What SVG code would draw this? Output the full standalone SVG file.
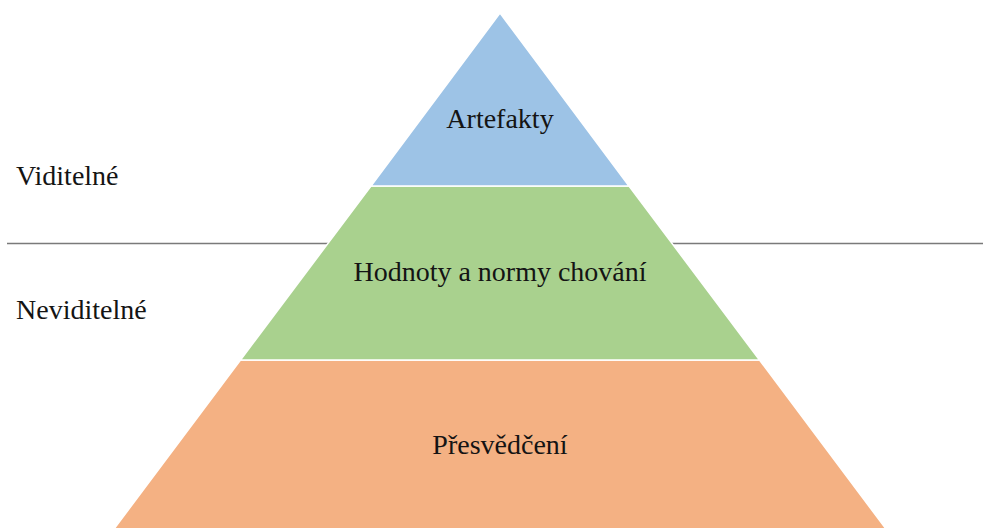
<svg xmlns="http://www.w3.org/2000/svg" width="983" height="528" viewBox="0 0 983 528">
<style>
  .lbl { font-family: "Liberation Serif", "Times New Roman", serif; font-size: 28px; fill: #141414; }
  .mid { text-anchor: middle; }
  .layer { stroke: #ffffff; stroke-width: 1.5; stroke-linejoin: miter; }
  .divider { stroke: #7a7a7a; stroke-width: 1.3; fill: none; }
</style>
<rect width="983" height="528" fill="#ffffff"/>
<g id="connectors">
  <line class="divider" x1="7" y1="243.5" x2="983" y2="243.5"/>
</g>
<g id="layer-beliefs">
  <polygon class="layer" fill="#F4B183" points="240.5,360 759.5,360 886,529 114,529"/>
  <text class="lbl mid" x="500" y="454">Přesvědčení</text>
</g>
<g id="layer-values">
  <polygon class="layer" fill="#A9D18E" points="371,186 629,186 759.5,360 240.5,360"/>
  <text class="lbl mid" x="500" y="281">Hodnoty a normy chování</text>
</g>
<g id="layer-artifacts">
  <polygon class="layer" fill="#9DC3E6" points="500,13 629,186 371,186"/>
  <text class="lbl mid" x="500" y="128">Artefakty</text>
</g>
<g id="label-visible">
  <text class="lbl" x="16" y="185">Viditelné</text>
</g>
<g id="label-invisible">
  <text class="lbl" x="16" y="319">Neviditelné</text>
</g>
</svg>
